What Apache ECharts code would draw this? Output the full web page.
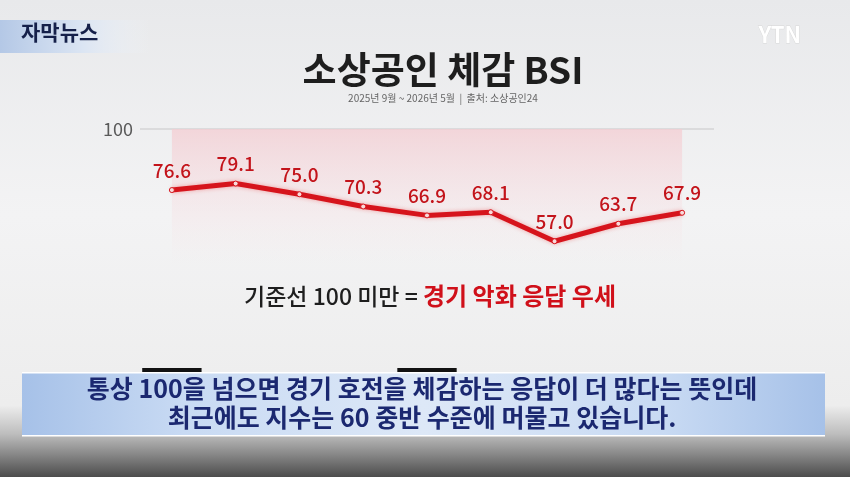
<!DOCTYPE html>
<html><head><meta charset="utf-8">
<script src="https://cdn.jsdelivr.net/npm/echarts@6/dist/echarts.min.js"></script>
<style>html,body{margin:0;padding:0;background:#eee}#c{width:850px;height:477px}</style>
</head><body><div id="c"></div>
<script>
var months = ['9월','10월','11월','12월','1월','2월','3월','4월','5월'];
var yearTags = ['2025년','','','','2026년','','','',''];
var bsiValues = [76.6, 79.1, 75.0, 70.3, 66.9, 68.1, 57.0, 63.7, 67.9];
var yTicks = [0, 100];

var FONT = '"Noto Sans CJK KR", "Noto Sans", sans-serif';
var chart = echarts.init(document.getElementById('c'));
var G = echarts.graphic;
chart.setOption({
  backgroundColor: new G.LinearGradient(0,0,0,1,[
    {offset:0,color:'#e8e9eb'},{offset:0.45,color:'#f3f3f4'},{offset:0.85,color:'#ededed'},
    {offset:0.91,color:'#bdbdbd'},{offset:1,color:'#4c4c4c'}]),
  textStyle:{fontFamily:FONT},
  title:{
    text:'소상공인 체감 BSI',
    subtext:'2025년 9월 ~ 2026년 5월  |  출처: 소상공인24',
    left:438, textAlign:'center', top:46, itemGap:5,
    textStyle:{fontFamily:FONT,fontSize:37,fontWeight:'bold',color:'#1e1e1e'},
    subtextStyle:{fontFamily:FONT,fontSize:10,color:'#666'}
  },
  grid:{left:140,right:136,top:129,bottom:87},
  xAxis:{
    type:'category', data:months, boundaryGap:true,
    axisLine:{show:false}, axisTick:{show:false},
    axisLabel:{
      interval:0, margin:-22,
      formatter:function(v,i){ return yearTags[i] ? '{y|'+yearTags[i]+'}' : ''; },
      rich:{y:{backgroundColor:'#121212',color:'#fff',fontSize:12,fontWeight:'bold',padding:[4,10],fontFamily:FONT}}
    }
  },
  yAxis:{
    type:'value', min:yTicks[0], max:yTicks[1], interval:yTicks[1]-yTicks[0],
    axisLine:{show:false}, axisTick:{show:false},
    axisLabel:{formatter:function(v){return v===yTicks[1]?String(v):'';},fontSize:18,color:'#5a5a5a',margin:7},
    splitLine:{lineStyle:{color:'#d4d4d6',width:1.5}}
  },
  series:[{
    type:'line', data:bsiValues, z:5,
    lineStyle:{color:'#d6141c',width:5,shadowBlur:4,shadowColor:'rgba(230,30,30,0.35)'},
    symbol:'circle', symbolSize:5,
    itemStyle:{color:'#f8dada',borderColor:'#d6141c',borderWidth:1},
    label:{show:true,position:'top',distance:7,fontSize:19,fontWeight:500,color:'#c3141b',
      formatter:function(p){return p.value.toFixed(1);}},
    markArea:{
      silent:true,
      itemStyle:{color:new G.LinearGradient(0,0,0,1,[
        {offset:0,color:'rgba(244,205,210,0.75)'},{offset:0.5,color:'rgba(246,220,224,0.45)'},{offset:1,color:'rgba(246,230,232,0)'}])},
      data:[[{xAxis:months[0],yAxis:yTicks[1]},{xAxis:months[months.length-1],yAxis:48}]]
    }
  }],
  graphic:[
    {type:'rect',z:50,shape:{x:0,y:20,width:150,height:33},
     style:{fill:new G.LinearGradient(0,0,1,0,[{offset:0,color:'#b4c8e6'},{offset:0.55,color:'#dbe5f3'},{offset:1,color:'rgba(240,243,248,0)'}])}},
    {type:'text',z:51,left:21,top:22,style:{text:'자막뉴스',font:'bold 21px '+FONT,fill:'#15204a'}},
    {type:'text',z:51,left:758,top:23,style:{text:'YTN',font:'bold 22px '+FONT,fill:'#ffffff',stroke:'#d8d8d8',lineWidth:0.8}},
    {type:'text',z:51,x:430,y:284,style:{
      text:'{a|기준선 100 미만 = }{b|경기 악화 응답 우세}',align:'center',
      rich:{a:{fontSize:23,fontWeight:500,fill:'#1e1e1e',fontFamily:FONT},
            b:{fontSize:24,fontWeight:'bold',fill:'#d0101a',fontFamily:FONT}}}},
    {type:'rect',z:60,shape:{x:22,y:372,width:803,height:64},
     style:{fill:new G.LinearGradient(0,0,1,0,[{offset:0,color:'#a6c1e8'},{offset:0.2,color:'#c8daf3'},{offset:0.5,color:'#dde8f7'},{offset:0.8,color:'#c8daf3'},{offset:1,color:'#a6c1e8'}])}},
    {type:'rect',z:61,shape:{x:22,y:372,width:803,height:1.5},style:{fill:'#ffffff'}},
    {type:'rect',z:61,shape:{x:22,y:435,width:803,height:1.5},style:{fill:'#ffffff'}},
    {type:'text',z:62,x:422,y:374,style:{
      text:'통상 100을 넘으면 경기 호전을 체감하는 응답이 더 많다는 뜻인데\n최근에도 지수는 60 중반 수준에 머물고 있습니다.',
      font:'bold 25px '+FONT,fill:'#1b2870',align:'center',lineHeight:29}}
  ]
});
</script></body></html>
